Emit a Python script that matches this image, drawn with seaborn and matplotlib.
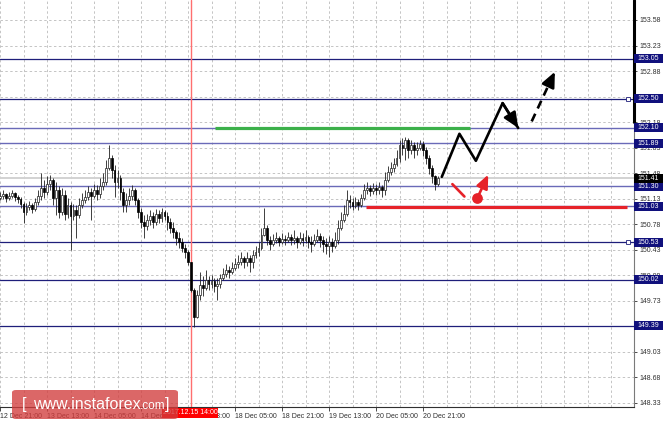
import numpy as np
import pandas as pd
import matplotlib
matplotlib.use("Agg")
import matplotlib.pyplot as plt
import seaborn as sns
from matplotlib.patches import Rectangle, FancyBboxPatch

# -----------------------------
# Data (USDJPY H1)
# -----------------------------
first_open = 151.14

closes = [
    151.17, 151.20, 151.14, 151.17, 151.21, 151.15, 151.13, 151.06, 150.95, 151.02,
    151.04, 150.99, 151.09, 151.17, 151.28, 151.22, 151.33, 151.39, 151.14, 151.25,
    150.95, 151.18, 150.92, 151.04, 150.89, 150.98, 150.91, 151.04, 151.11, 151.15,
    151.22, 151.17, 151.25, 151.20, 151.30, 151.36, 151.55, 151.69, 151.52, 151.36,
    151.41, 151.22, 151.04, 151.11, 151.17, 151.25, 151.11, 150.95, 150.81, 150.76,
    150.84, 150.89, 150.81, 150.92, 150.87, 150.95, 150.89, 150.81, 150.73, 150.67,
    150.59, 150.54, 150.45, 150.40, 150.26, 149.88, 149.51, 149.81, 149.95, 149.91,
    150.02, 149.96, 150.00, 149.93, 149.96, 150.04, 150.10, 150.15, 150.13, 150.18,
    150.24, 150.26, 150.32, 150.26, 150.32, 150.26, 150.36, 150.40, 150.45, 150.63,
    150.73, 150.56, 150.51, 150.56, 150.59, 150.54, 150.58, 150.56, 150.61, 150.56,
    150.59, 150.54, 150.59, 150.56, 150.61, 150.54, 150.51, 150.56, 150.62, 150.56,
    150.51, 150.48, 150.54, 150.48, 150.56, 150.73, 150.84, 150.92, 151.11, 151.09,
    151.03, 151.09, 151.04, 151.14, 151.25, 151.28, 151.24, 151.28, 151.25, 151.29,
    151.25, 151.39, 151.50, 151.55, 151.61, 151.69, 151.87, 151.83, 151.94, 151.80,
    151.87, 151.80, 151.83, 151.88, 151.80, 151.69, 151.55, 151.44, 151.33, 151.41,
]

highs = [
    151.22, 151.25, 151.21, 151.22, 151.25, 151.22, 151.18, 151.15, 151.09, 151.07,
    151.10, 151.07, 151.14, 151.25, 151.48, 151.39, 151.44, 151.46, 151.41, 151.36,
    151.30, 151.28, 151.25, 151.14, 151.09, 151.06, 151.04, 151.14, 151.21, 151.25,
    151.30, 151.28, 151.33, 151.32, 151.41, 151.48, 151.66, 151.87, 151.73, 151.59,
    151.52, 151.46, 151.28, 151.21, 151.28, 151.32, 151.28, 151.14, 151.00, 150.91,
    150.92, 150.98, 150.95, 150.99, 150.98, 151.00, 150.98, 150.95, 150.87, 150.81,
    150.70, 150.67, 150.59, 150.51, 150.43, 150.26, 149.91, 149.88, 150.13, 150.07,
    150.15, 150.07, 150.08, 150.04, 150.04, 150.10, 150.18, 150.24, 150.21, 150.26,
    150.32, 150.36, 150.40, 150.34, 150.40, 150.36, 150.43, 150.48, 150.54, 150.73,
    151.00, 150.77, 150.62, 150.65, 150.67, 150.62, 150.66, 150.63, 150.67, 150.65,
    150.70, 150.62, 150.67, 150.66, 150.70, 150.63, 150.62, 150.65, 150.72, 150.66,
    150.62, 150.59, 150.62, 150.59, 150.67, 150.84, 150.95, 151.04, 151.25, 151.18,
    151.14, 151.15, 151.13, 151.20, 151.33, 151.36, 151.32, 151.35, 151.33, 151.36,
    151.32, 151.50, 151.58, 151.63, 151.69, 151.80, 151.94, 151.96, 151.98, 151.96,
    151.94, 151.91, 151.91, 151.94, 151.92, 151.84, 151.73, 151.59, 151.46, 151.44,
]

lows = [
    151.11, 151.13, 151.09, 151.11, 151.14, 151.10, 151.07, 151.00, 150.80, 150.91,
    150.98, 150.93, 150.96, 151.04, 151.11, 151.14, 151.18, 151.25, 151.04, 150.91,
    150.87, 150.91, 150.84, 150.87, 150.43, 150.84, 150.59, 150.87, 151.00, 151.07,
    151.11, 150.84, 151.14, 151.11, 151.14, 151.25, 151.32, 151.52, 151.41, 151.15,
    151.28, 151.11, 150.95, 150.95, 151.04, 151.11, 151.04, 150.87, 150.73, 150.59,
    150.70, 150.77, 150.73, 150.77, 150.80, 150.81, 150.84, 150.70, 150.66, 150.59,
    150.50, 150.45, 150.40, 150.32, 150.22, 149.85, 149.37, 149.50, 149.74, 149.80,
    149.88, 149.88, 149.91, 149.85, 149.74, 149.91, 150.02, 150.06, 150.04, 150.10,
    150.15, 150.18, 150.22, 150.18, 150.21, 150.13, 150.18, 150.32, 150.34, 150.43,
    150.62, 150.50, 150.43, 150.48, 150.52, 150.48, 150.51, 150.50, 150.54, 150.50,
    150.51, 150.45, 150.51, 150.48, 150.52, 150.45, 150.40, 150.48, 150.54, 150.47,
    150.40, 150.37, 150.33, 150.40, 150.45, 150.51, 150.70, 150.81, 150.89, 151.00,
    150.98, 151.00, 150.98, 151.02, 151.11, 151.20, 151.17, 151.20, 151.18, 151.20,
    151.15, 151.18, 151.36, 151.46, 151.50, 151.58, 151.63, 151.73, 151.66, 151.69,
    151.74, 151.69, 151.73, 151.80, 151.72, 151.61, 151.47, 151.35, 151.25, 151.30,
]

date_labels = ["12 Dec 21:00", "13 Dec 13:00", "14 Dec 05:00", "14 Dec 21:00",
               "15 Dec 13:00", "18 Dec 05:00", "18 Dec 21:00", "19 Dec 13:00",
               "20 Dec 05:00", "20 Dec 21:00"]

axis_prices = [153.58, 153.23, 152.88, 152.53, 152.18, 151.83, 151.48, 151.13,
               150.78, 150.43, 150.08, 149.73, 149.38, 149.03, 148.68, 148.33]
# scale labels that sit fully under a level box in the picture
hidden_prices = [152.53, 149.38]

levels_dark = [153.05, 152.50, 150.53, 150.02, 149.39]
levels_light = [152.10, 151.89, 151.30, 151.03]
last_price = 151.41

# drawn forecast (bar index, price)
green_bars, green_price = [73.2, 160.0], 152.10
red_bars, red_price = [124.6, 213.4], 151.01
marked_bar, marked_label = 65, "2017.12.15 14:00"
path_bars = [150.4, 156.4, 162.0, 171.1, 176.4]
path_prices = [151.43, 152.02, 151.65, 152.44, 152.10]
dash_bars = [181.0, 188.9]
dash_prices = [152.19, 152.87]
red_stroke_bars = [154.0, 158.1]
red_stroke_prices = [151.33, 151.16]
red_arrow_bars = [162.5, 166.2]
red_arrow_prices = [151.14, 151.46]

# -----------------------------
# Frame
# -----------------------------
sns.set_style("white")
plt.rcParams["font.family"] = ["Liberation Sans", "DejaVu Sans"]

W, H = 665, 424
fig = plt.figure(figsize=(W / 100, H / 100), dpi=100)
ax = fig.add_axes([0, 17 / H, 634 / W, 407 / H])

px_per_bar = 2.9375
ax.set_xlim(0, 634 / px_per_bar)
ax.set_ylim(148.275, 153.854)

# dashed grid
for b in range(0, 216, 8):
    ax.axvline(b, color="#c4c4c4", lw=0.7, ls=(0, (2.5, 2.5)), zorder=0.5)
for p in axis_prices:
    ax.axhline(p, color="#c4c4c4", lw=0.7, ls=(0, (2.5, 2.5)), zorder=0.5)

# horizontal levels
for p in levels_dark:
    ax.axhline(p, color="#1e1e7a", lw=0.9, zorder=1)
for p in levels_light:
    ax.axhline(p, color="#6a6ab8", lw=1.0, zorder=1)
ax.axhline(last_price, color="#d2d2d2", lw=1.4, zorder=0.8)
ax.plot([213.8, 213.8], [152.50, 150.53], ls="none", marker="s", ms=2.5,
        mfc="white", mec="#1e1e7a", mew=0.6, zorder=2)

ax.axvline(marked_bar, color="#ff6f6f", lw=1.0, zorder=1)

# -----------------------------
# Candles
# -----------------------------
df = pd.DataFrame({"close": closes, "high": highs, "low": lows})
df["open"] = [first_open] + closes[:-1]
df["idx"] = np.arange(len(df))
df["high"] = df[["high", "open", "close"]].max(axis=1)
df["low"] = df[["low", "open", "close"]].min(axis=1)
bull = df["close"] >= df["open"]

ax.vlines(df["idx"], df["low"], df["high"], color="#202020", lw=0.6, zorder=2)
body = (df["close"] - df["open"]).abs().clip(lower=0.012)
bottom = df[["open", "close"]].min(axis=1)
ax.bar(df["idx"][bull], body[bull], bottom=bottom[bull], width=0.62,
       color="white", edgecolor="#202020", lw=0.5, zorder=2.2)
ax.bar(df["idx"][~bull], body[~bull], bottom=bottom[~bull], width=0.62,
       color="black", edgecolor="black", lw=0.5, zorder=2.2)

# -----------------------------
# Forecast drawings
# -----------------------------
ax.plot(green_bars, [green_price] * 2, color="#3cb04a", lw=2.3,
        solid_capstyle="butt", zorder=3)
ax.plot(red_bars, [red_price] * 2, color="#e62229", lw=2.3,
        solid_capstyle="butt", zorder=3)

sns.lineplot(x=path_bars, y=path_prices, sort=False, color="black", lw=1.9,
             ax=ax, zorder=4)
ax.annotate("", xy=(path_bars[-1], path_prices[-1]),
            xytext=(path_bars[-2], path_prices[-2]),
            arrowprops=dict(arrowstyle="-|>,head_length=0.9,head_width=0.4",
                            color="black", lw=1.9, shrinkA=0, shrinkB=0),
            zorder=4)
sns.lineplot(x=dash_bars[:1] + [dash_bars[1] - 1.2],
             y=dash_prices[:1] + [dash_prices[1] - 0.10],
             sort=False, color="black", lw=1.9, ax=ax, zorder=4,
             linestyle=(0, (3.2, 2.2)))
ax.annotate("", xy=(dash_bars[1], dash_prices[1]),
            xytext=(dash_bars[1] - 1.3, dash_prices[1] - 0.11),
            arrowprops=dict(arrowstyle="-|>,head_length=0.9,head_width=0.4",
                            color="black", lw=1.9, shrinkA=0, shrinkB=0),
            zorder=4)

sns.lineplot(x=red_stroke_bars, y=red_stroke_prices, sort=False,
             color="#e62229", lw=1.9, ax=ax, zorder=4)
ax.annotate("", xy=(red_arrow_bars[1], red_arrow_prices[1]),
            xytext=(red_arrow_bars[0], red_arrow_prices[0]),
            arrowprops=dict(arrowstyle="-|>,head_length=0.8,head_width=0.35",
                            color="#e62229", lw=1.9, shrinkA=0, shrinkB=0),
            zorder=4)
ax.scatter([red_arrow_bars[0]], [red_arrow_prices[0]], s=60, color="#e62229",
           zorder=5, linewidths=0)

# -----------------------------
# Axes, ticks, labels
# -----------------------------
for s in ["left", "top"]:
    ax.spines[s].set_visible(False)
ax.spines["right"].set_color("#7a7a7a")
ax.spines["right"].set_linewidth(0.8)
ax.spines["bottom"].set_color("#303030")
ax.spines["bottom"].set_linewidth(0.8)
ax.plot([1, 1], [1 - 122 / 407, 1], transform=ax.transAxes, color="black",
        lw=2.2, clip_on=False, zorder=6)

ax.set_yticks(axis_prices)
ax.set_yticklabels(["" if p in hidden_prices else f"{p:.2f}" for p in axis_prices])
ax.yaxis.tick_right()
ax.tick_params(axis="y", right=True, left=False, length=2.5, width=0.6,
               pad=1.5, labelsize=5, colors="#303030")

ax.set_xticks(range(0, 16 * len(date_labels), 16))
ax.set_xticklabels(date_labels)
ax.tick_params(axis="x", bottom=True, length=3, width=0.6, pad=1.5,
               labelsize=5, colors="#303030")
for lbl in ax.get_xticklabels():
    lbl.set_horizontalalignment("left")
ax.set_xlabel("")
ax.set_ylabel("")

# level price boxes on the price scale
ytr = ax.get_yaxis_transform()
box_h = 9 / 72.95
for p in levels_dark + levels_light:
    ax.add_patch(Rectangle((1.0, p - box_h / 2), 29 / 634, box_h, transform=ytr,
                           fc="#10107c", ec="none", clip_on=False, zorder=7))
    ax.text(1.006, p, f"{p:.2f}", transform=ytr, color="white", fontsize=5,
            va="center", ha="left", clip_on=False, zorder=8)
ax.add_patch(Rectangle((1.0, last_price - box_h / 2), 29 / 634, box_h,
                       transform=ytr, fc="black", ec="none", clip_on=False,
                       zorder=7))
ax.text(1.006, last_price, f"{last_price:.2f}", transform=ytr, color="white",
        fontsize=5, va="center", ha="left", clip_on=False, zorder=8)

# red time box on the time scale
xtr = ax.get_xaxis_transform()
ax.add_patch(Rectangle((162 / px_per_bar, -11 / 407), 56 / px_per_bar, 10 / 407,
                       transform=xtr, fc="#ff0000", ec="none", clip_on=False,
                       zorder=7))
ax.text(190 / px_per_bar, -6 / 407, marked_label, transform=xtr, color="white",
        fontsize=5, ha="center", va="center", clip_on=False, zorder=8)

# watermark
fig.add_artist(FancyBboxPatch((12 / W, 5 / H), 166 / W, 29 / H,
                              boxstyle="round,pad=0,rounding_size=0.006",
                              transform=fig.transFigure, fc="#d23c3c",
                              ec="none", alpha=0.78, zorder=10))
fig.text(22 / W, 19.5 / H, "[", color="white", fontsize=12, va="center",
         ha="left", zorder=11)
fig.text(33 / W, 19.5 / H, "www.instaforex", color="white", fontsize=11.5,
         va="center", ha="left", zorder=11)
fig.text(140 / W, 18 / H, ".com", color="white", fontsize=8.5, va="center",
         ha="left", zorder=11)
fig.text(165 / W, 19.5 / H, "]", color="white", fontsize=12, va="center",
         ha="left", zorder=11)

fig.savefig("out.png", dpi=100)
